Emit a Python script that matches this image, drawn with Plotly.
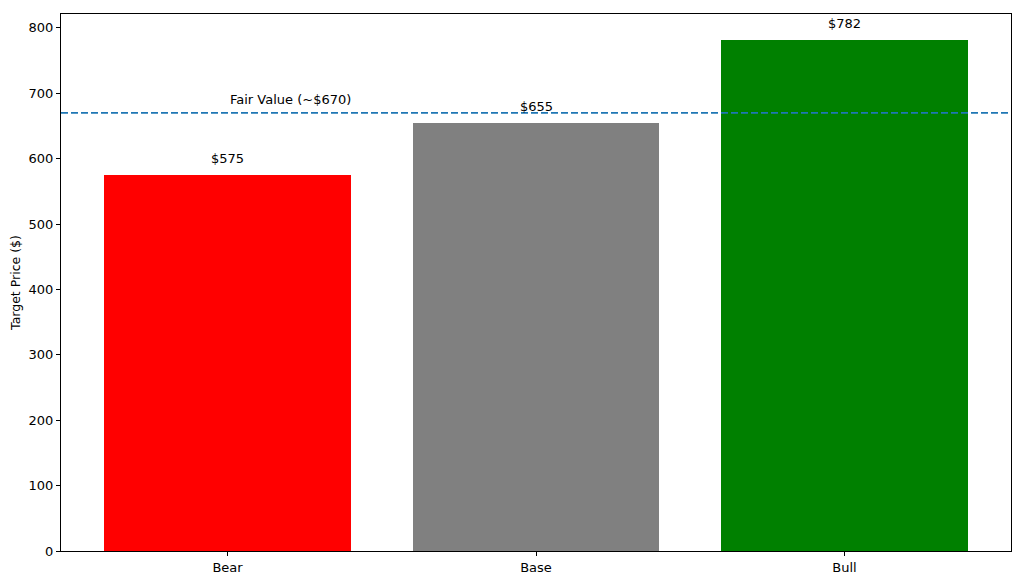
import plotly.graph_objects as go

# scenario target prices
scenarios = ["Bear", "Base", "Bull"]
targets = [575, 655, 782]
bar_colors = ["red", "gray", "green"]
fair_value = 670
fair_label = "Fair Value (~$670)"
y_ticks = [0, 100, 200, 300, 400, 500, 600, 700, 800]

x_pos = list(range(len(scenarios)))

fig = go.Figure()
fig.add_trace(go.Bar(
    x=x_pos, y=targets, width=0.8,
    marker=dict(color=bar_colors, line=dict(width=0)),
    showlegend=False,
))

# value labels above bars
for xi, v in zip(x_pos, targets):
    fig.add_annotation(x=xi, y=v + 10, text=f"${v}", showarrow=False,
                       xanchor="center", yanchor="bottom",
                       font=dict(size=13, color="black"))

# fair value reference line
fig.add_shape(type="line", xref="paper", x0=0, x1=1, y0=fair_value, y1=fair_value,
              line=dict(color="#1f77b4", width=1.8, dash="7px,3px"))
fig.add_annotation(x=0, y=fair_value + 10, text=fair_label, showarrow=False,
                   xanchor="left", yanchor="bottom", yshift=-3,
                   font=dict(size=13, color="black"))

# page offsets the figure by a few px, so shift margins to compensate
fig.update_layout(
    width=1023, height=583,
    margin=dict(l=53, r=20, t=6, b=40),
    plot_bgcolor="white", paper_bgcolor="white",
    font=dict(family="DejaVu Sans", size=13, color="black"),
    bargap=0,
)
fig.update_xaxes(
    range=[-0.54, 2.54], tickvals=x_pos, ticktext=scenarios, automargin=False,
    showgrid=False, zeroline=False, showline=True, linecolor="black", linewidth=1,
    mirror=True, ticks="outside", ticklen=4, tickcolor="black",
)
fig.update_yaxes(
    range=[0, 821.1], tickvals=y_ticks, automargin=False,
    title=dict(text="Target Price ($)", standoff=8, font=dict(size=12.5)),
    showgrid=False, zeroline=False, showline=True, linecolor="black", linewidth=1,
    mirror=True, ticks="outside", ticklen=4, tickcolor="black",
)

fig.write_html("out.html")
